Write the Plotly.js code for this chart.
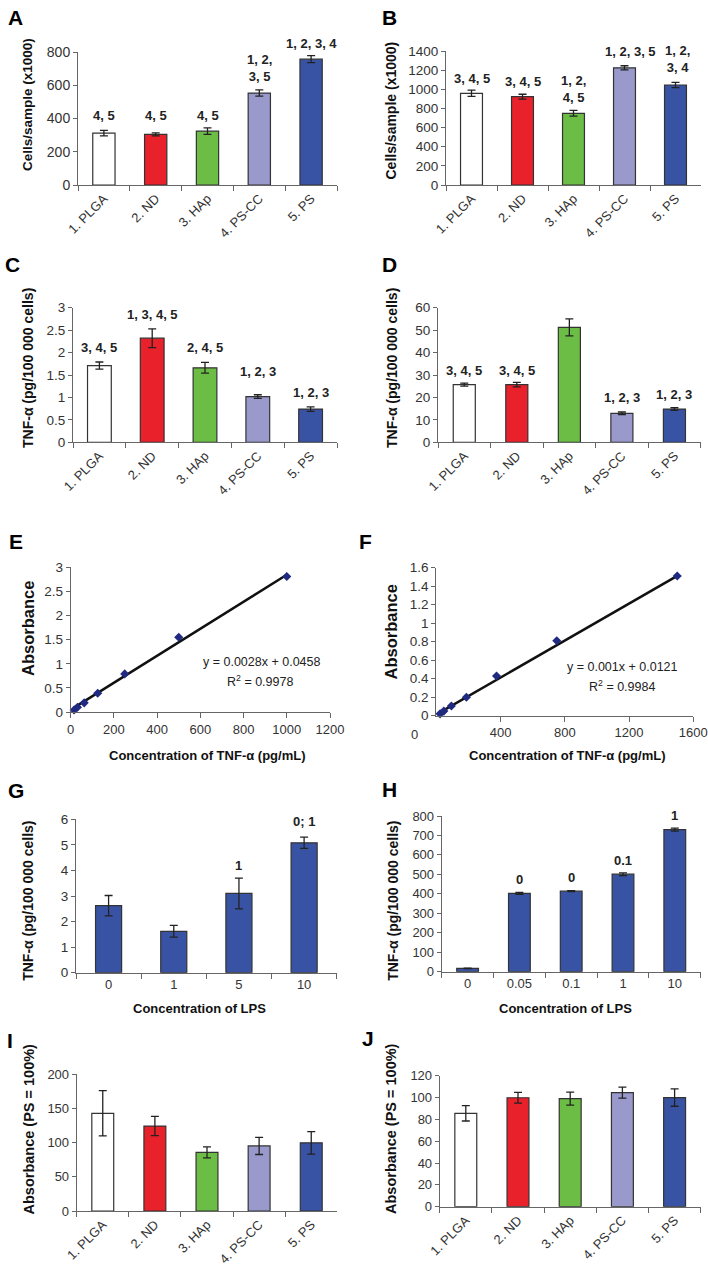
<!DOCTYPE html>
<html><head><meta charset="utf-8">
<script src="https://cdn.plot.ly/plotly-3.0.1.min.js"></script>
<style>html,body{margin:0;padding:0;background:#fff}#c{width:708px;height:1282px}</style>
</head><body><div id="c"></div>
<script>
// ---------- data ----------
const materials = ['1. PLGA', '2. ND', '3. HAp', '4. PS-CC', '5. PS'];
const materialColors = ['#ffffff', '#e8212b', '#6cbd45', '#9999cc', '#3953a4'];

const cellsA = [312, 304, 324, 553, 757];
const errA = [16, 9, 20, 19, 21];
const sigA = ['4, 5', '4, 5', '4, 5', '1, 2,<br>3, 5', '1, 2, 3, 4'];

const cellsB = [958, 923, 749, 1224, 1045];
const errB = [33, 25, 30, 22, 27];
const sigB = ['3, 4, 5', '3, 4, 5', '1, 2,<br>4, 5', '1, 2, 3, 5', '1, 2,<br>3, 4'];

const tnfC = [1.71, 2.32, 1.66, 1.02, 0.74];
const errC = [0.08, 0.21, 0.12, 0.04, 0.05];
const sigC = ['3, 4, 5', '1, 3, 4, 5', '2, 4, 5', '1, 2, 3', '1, 2, 3'];

const tnfD = [25.7, 25.7, 51.2, 12.9, 14.8];
const errD = [0.7, 1.0, 3.8, 0.6, 0.6];
const sigD = ['3, 4, 5', '3, 4, 5', '', '1, 2, 3', '1, 2, 3'];

const concE = [15.6, 31.25, 62.5, 125, 250, 500, 1000];
const absE = [0.04, 0.1, 0.19, 0.39, 0.79, 1.55, 2.81];
const fitE = {slope: 0.0028, intercept: 0.0458, r2: '0.9978'};

const concF = [23.4, 46.9, 93.75, 187.5, 375, 750, 1500];
const absF = [0.02, 0.05, 0.105, 0.2, 0.43, 0.81, 1.51];
const fitF = {slope: 0.001, intercept: 0.0121, r2: '0.9984'};

const lpsG = ['0', '1', '5', '10'];
const tnfG = [2.62, 1.62, 3.1, 5.08];
const errG = [0.4, 0.23, 0.6, 0.22];
const sigG = ['', '', '1', '0; 1'];

const lpsH = ['0', '0.05', '0.1', '1', '10'];
const tnfH = [17, 402, 414, 501, 730];
const errH = [1, 5, 3, 7, 8];
const sigH = ['', '0', '0', '0.1', '1'];

const absI = [142.6, 124, 85.6, 95, 99.5];
const errI = [33, 14, 8, 12.5, 16.5];

const absJ = [85.5, 99.8, 99, 104.5, 100];
const errJ = [7, 5, 6, 5, 8];

// ---------- layout helpers ----------
const W = 708, H = 1282;
const fx = p => p / W, fy = p => 1 - p / H;
const FONT = 'Liberation Sans, Arial, sans-serif';
const AX = '#666', TXT = '#333', NAVY = '#3953a4';

const traces = [];
const layout = {
  width: W, height: H, margin: {l: 0, r: 0, t: 0, b: 0},
  paper_bgcolor: '#fff', plot_bgcolor: 'rgba(0,0,0,0)',
  showlegend: false, font: {family: FONT, color: TXT},
  annotations: [], bargap: 0
};

function axes(k, box, xopt, yr, dt, fs) {
  const xn = 'xaxis' + k, yn = 'yaxis' + k;
  fs = fs || 13;
  layout[xn] = Object.assign({
    domain: [fx(box[0]), fx(box[1])], anchor: 'y' + k,
    showline: true, linecolor: AX, linewidth: 1, ticks: 'outside', ticklen: 5, tickcolor: AX,
    tickfont: {family: FONT, size: 13, color: TXT}, showgrid: false, zeroline: false, fixedrange: true
  }, xopt);
  layout[yn] = {
    domain: [fy(box[3]), fy(box[2])], anchor: 'x' + k, range: yr, dtick: dt, tick0: 0,
    showline: true, linecolor: AX, linewidth: 1, ticks: 'outside', ticklen: 4, tickcolor: AX,
    tickfont: {family: FONT, size: fs, color: TXT}, showgrid: false, zeroline: false, fixedrange: true
  };
}

function catX(cats, rot) {
  return {type: 'category', range: [-0.5, cats.length - 0.5], tickson: 'boundaries',
          tickangle: rot ? -45 : 0};
}

function bars(k, cats, vals, errs, colors, width) {
  traces.push({
    type: 'bar', x: cats, y: vals, xaxis: 'x' + k, yaxis: 'y' + k, width: width,
    marker: {color: colors, line: {color: '#333', width: 1.2}},
    error_y: {type: 'data', array: errs, visible: true, color: '#222', thickness: 1.3, width: 4},
    hoverinfo: 'none'
  });
}

// significance labels: x is the category index on the category axis
function sig(k, labels, pixY, xshift) {
  labels.forEach((t, i) => {
    if (!t) return;
    layout.annotations.push({xref: 'x' + k, yref: 'paper', x: i, y: fy(pixY[i]),
      xshift: xshift ? xshift[i] : 0,
      text: '<b>' + t + '</b>', showarrow: false, xanchor: 'center', yanchor: 'middle',
      font: {family: FONT, size: 13, color: '#222'}});
  });
}

function txt(x, y, t, size, opts) {
  layout.annotations.push(Object.assign({xref: 'paper', yref: 'paper', x: fx(x), y: fy(y),
    text: t, showarrow: false, xanchor: 'center', yanchor: 'middle',
    font: {family: FONT, size: size, color: '#111'}}, opts || {}));
}

// ---------- A ----------
axes('', [78, 337, 52, 185], catX(materials, true), [0, 800], 200, 14);
bars('', materials, cellsA, errA, materialColors, 0.43);
sig('', sigA, [115, 115, 115, 68, 43]);
// ---------- B ----------
axes('2', [446, 701, 51, 185], catX(materials, true), [0, 1400], 200, 13.5);
bars('2', materials, cellsB, errB, materialColors, 0.43);
sig('2', sigB, [79, 81, 89, 51, 59.5], [0, 0, 0, 6, 2]);
// ---------- C ----------
axes('3', [73, 337, 307.7, 442.3], catX(materials, true), [0, 3], 0.5, 13.5);
bars('3', materials, tnfC, errC, materialColors, 0.45);
sig('3', sigC, [348, 314, 348, 371.7, 392.7]);
// ---------- D ----------
axes('4', [438, 700.7, 307.7, 442.3], catX(materials, true), [0, 60], 10, 13.5);
bars('4', materials, tnfD, errD, materialColors, 0.42);
sig('4', sigD, [370, 370, 0, 397, 394]);
// ---------- E ----------
axes('5', [70.7, 330, 567.3, 712], {range: [0, 1200], dtick: 200, tick0: 0}, [0, 3], 0.5, 13.5);
{
  const xs = [Math.min(...concE), Math.max(...concE)];
  traces.push({type: 'scatter', mode: 'lines', x: xs, y: xs.map(v => fitE.slope * v + fitE.intercept),
    xaxis: 'x5', yaxis: 'y5', line: {color: '#111', width: 2.5}, hoverinfo: 'none'});
  traces.push({type: 'scatter', mode: 'markers', x: concE, y: absE, xaxis: 'x5', yaxis: 'y5',
    marker: {symbol: 'diamond', size: 7, color: '#1f2a80'}, hoverinfo: 'none', cliponaxis: false});
  txt(261.7, 661.7, 'y = ' + fitE.slope + 'x + ' + fitE.intercept, 12.5, {font: {family: FONT, size: 12.5, color: '#222'}});
  txt(260, 681, 'R<sup>2</sup> = ' + fitE.r2, 12.5, {font: {family: FONT, size: 12.5, color: '#222'}});
}
// ---------- F ----------
axes('6', [436.3, 693.3, 567.7, 715.7],
  {range: [0, 1600], tickvals: [400, 800, 1200, 1600], ticktext: ['400', '800', '1200', '1600']}, [0, 1.6], 0.2, 13.5);
{
  const xs = [Math.min(...concF), Math.max(...concF)];
  traces.push({type: 'scatter', mode: 'lines', x: xs, y: xs.map(v => fitF.slope * v + fitF.intercept),
    xaxis: 'x6', yaxis: 'y6', line: {color: '#111', width: 2.5}, hoverinfo: 'none'});
  traces.push({type: 'scatter', mode: 'markers', x: concF, y: absF, xaxis: 'x6', yaxis: 'y6',
    marker: {symbol: 'diamond', size: 7, color: '#1f2a80'}, hoverinfo: 'none', cliponaxis: false});
  txt(622, 666.7, 'y = ' + fitF.slope + 'x + ' + fitF.intercept, 12.5, {font: {family: FONT, size: 12.5, color: '#222'}});
  txt(622, 685.7, 'R<sup>2</sup> = ' + fitF.r2, 12.5, {font: {family: FONT, size: 12.5, color: '#222'}});
  txt(415, 734, '0', 13, {font: {family: FONT, size: 13, color: TXT}});
}
// ---------- G ----------
axes('7', [76, 336.7, 819.3, 972.7], catX(lpsG, false), [0, 6], 1, 13.5);
bars('7', lpsG, tnfG, errG, NAVY, 0.4);
sig('7', sigG, [0, 0, 865, 821.7]);
// ---------- H ----------
axes('8', [441.7, 700.7, 816, 971.7], catX(lpsH, false), [0, 800], 100, 13);
bars('8', lpsH, tnfH, errH, NAVY, 0.42);
sig('8', sigH, [0, 879.3, 877.7, 860, 815]);
// ---------- I ----------
axes('9', [76.7, 337.3, 1074, 1211], catX(materials, true), [0, 200], 50, 13);
bars('9', materials, absI, errI, materialColors, 0.42);
// ---------- J ----------
axes('10', [439.7, 700.7, 1075.7, 1206.7], catX(materials, true), [0, 120], 20, 13);
bars('10', materials, absJ, errJ, materialColors, 0.42);

// ---------- axis titles ----------
const cellsT = '<b>Cells/sample (x1000)</b>';
const tnfT = '<b>TNF-α (pg/100 000 cells)</b>';
const absT = '<b>Absorbance</b>';
const absPT = '<b>Absorbance (PS = 100%)</b>';
const concT = '<b>Concentration of TNF-α (pg/mL)</b>';
const lpsT = '<b>Concentration of LPS</b>';
const rot = {textangle: -90};
txt(28, 105, cellsT, 13.5, rot);
txt(391, 110.5, cellsT, 14, rot);
txt(28, 368, tnfT, 14, rot);
txt(392, 368, tnfT, 14, rot);
txt(28, 629, absT, 16.5, rot);
txt(391, 632.5, absT, 16.5, rot);
txt(28, 900.8, tnfT, 14, rot);
txt(393, 900.8, tnfT, 14, rot);
txt(28, 1129.5, absPT, 14.5, rot);
txt(391, 1129, absPT, 14.5, rot);
txt(206.7, 755, concT, 13);
txt(566.5, 755, concT, 13);
txt(199, 1008, lpsT, 13);
txt(565, 1008, lpsT, 13);

// ---------- panel letters ----------
[['A', 15, 17], ['B', 389, 17], ['C', 12, 264], ['D', 389, 264], ['E', 16, 541.7], ['F', 366, 541.7],
 ['G', 16, 790], ['H', 389, 789.3], ['I', 10, 1040], ['J', 368, 1038.3]].forEach(([t, x, y]) =>
  txt(x, y, '<b>' + t + '</b>', 21, {font: {family: FONT, size: 21, color: '#000'}}));

Plotly.newPlot('c', traces, layout, {staticPlot: true, displayModeBar: false});
</script></body></html>
